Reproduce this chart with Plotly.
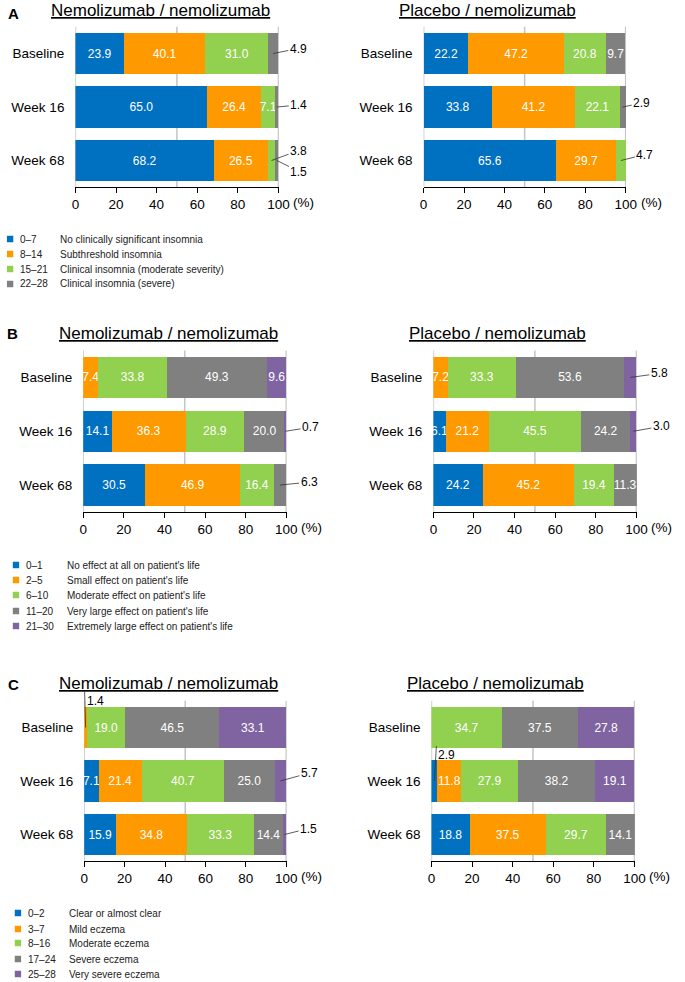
import plotly.graph_objects as go

W, H = 685, 982
FONT = "Arial, Liberation Sans, Helvetica, sans-serif"

# ---------------- data ----------------
categories = ["Baseline", "Week 16", "Week 68"]
x_tickvals = [0, 20, 40, 60, 80, 100]
x_ticktext = ["0", "20", "40", "60", "80", "100"]
grid_vals = [0, 50, 100]
unit_text = "(%)"

colors = ["#0070C0", "#FF9900", "#92D050", "#808080", "#8064A2"]

arm_titles = ["Nemolizumab / nemolizumab", "Placebo / nemolizumab"]
panel_letters = ["A", "B", "C"]

# A: insomnia severity
a_ranges = ["0–7", "8–14", "15–21", "22–28"]
a_labels = ["No clinically significant insomnia", "Subthreshold insomnia",
            "Clinical insomnia (moderate severity)", "Clinical insomnia (severe)"]
a_nemo = [[23.9, 65.0, 68.2], [40.1, 26.4, 26.5], [31.0, 7.1, 3.8], [4.9, 1.4, 1.5]]
a_plac = [[22.2, 33.8, 65.6], [47.2, 41.2, 29.7], [20.8, 22.1, 4.7], [9.7, 2.9, 0.0]]

# B: effect on patient's life
b_ranges = ["0–1", "2–5", "6–10", "11–20", "21–30"]
b_labels = ["No effect at all on patient's life", "Small effect on patient's life",
            "Moderate effect on patient's life", "Very large effect on patient's life",
            "Extremely large effect on patient's life"]
b_nemo = [[0.0, 14.1, 30.5], [7.4, 36.3, 46.9], [33.8, 28.9, 16.4], [49.3, 20.0, 6.3], [9.6, 0.7, 0.0]]
b_plac = [[0.0, 6.1, 24.2], [7.2, 21.2, 45.2], [33.3, 45.5, 19.4], [53.6, 24.2, 11.3], [5.8, 3.0, 0.0]]

# C: eczema severity
c_ranges = ["0–2", "3–7", "8–16", "17–24", "25–28"]
c_labels = ["Clear or almost clear", "Mild eczema", "Moderate eczema",
            "Severe eczema", "Very severe eczema"]
c_nemo = [[0.0, 7.1, 15.9], [1.4, 21.4, 34.8], [19.0, 40.7, 33.3], [46.5, 25.0, 14.4], [33.1, 5.7, 1.5]]
c_plac = [[0.0, 2.9, 18.8], [0.0, 11.8, 37.5], [34.7, 27.9, 29.7], [37.5, 38.2, 14.1], [27.8, 19.1, 0.0]]

# ---------------- layout specs (pixels) ----------------
def xp(px):
    return px / W

def yp(py):
    return 1 - py / H

# callouts: (series index, category index, ax, ay, vertical)
panels = [
    dict(series=a_nemo, x=(73, 281), y=(26.75, 187.25), title_x=160, title_y=10,
         callouts=[(3, 0, 25, -5, False), (3, 1, 22, -2, False), (2, 2, 27, -10, False), (3, 2, 22, 11, False)]),
    dict(series=a_plac, x=(429, 636), y=(26.75, 187.25), title_x=494, title_y=10,
         callouts=[(3, 1, 19, -4, False), (2, 2, 24, -6, False)]),
    dict(series=b_nemo, x=(81, 289), y=(350.5, 512), title_x=168, title_y=333,
         callouts=[(4, 1, 25, -4, False), (3, 2, 29, -3, False)]),
    dict(series=b_plac, x=(439, 647), y=(350.5, 512), title_x=505, title_y=333,
         callouts=[(4, 0, 29, -4, False), (4, 1, 28, -5, False)]),
    dict(series=c_nemo, x=(82, 289), y=(700.75, 861.25), title_x=168, title_y=683,
         callouts=[(1, 0, -1, -36, True), (4, 1, 29, -8, False), (4, 2, 24, -6, False)]),
    dict(series=c_plac, x=(437, 645), y=(700.75, 861.25), title_x=503, title_y=683,
         callouts=[(0, 1, 2, -35, True)]),
]

letters_pos = [(9.5, 13), (9, 333), (9.5, 684)]

legends = [
    dict(ranges=a_ranges, labels=a_labels, rows=[239, 254, 269, 284], sq_x=3, rng_x=14, lab_x=55),
    dict(ranges=b_ranges, labels=b_labels, rows=[565, 580, 595, 611, 626], sq_x=9, rng_x=20, lab_x=62),
    dict(ranges=c_ranges, labels=c_labels, rows=[913, 929, 943, 959, 974], sq_x=11, rng_x=22, lab_x=64),
]

fig = go.Figure()
annotations = []
shapes = []
layout_axes = {}

for i, p in enumerate(panels, start=1):
    xa = "x" if i == 1 else f"x{i}"
    ya = "y" if i == 1 else f"y{i}"
    xkey = "xaxis" if i == 1 else f"xaxis{i}"
    ykey = "yaxis" if i == 1 else f"yaxis{i}"
    outside = {(s, c) for s, c, *_ in p["callouts"]}

    for s, vals in enumerate(p["series"]):
        texts = []
        for c, v in enumerate(vals):
            if v <= 0 or (s, c) in outside:
                texts.append("")
            else:
                texts.append(f"{v:.1f}")
        fig.add_trace(go.Bar(
            x=vals, y=categories, orientation="h", xaxis=xa, yaxis=ya,
            marker=dict(color=colors[s], line=dict(width=0)),
            width=0.77, text=texts, textposition="inside",
            insidetextanchor="middle", textangle=0, constraintext="none",
            textfont=dict(color="white", size=12, family=FONT),
            showlegend=False, hoverinfo="x+y", cliponaxis=False,
        ))

    layout_axes[xkey] = dict(
        domain=[xp(p["x"][0]), xp(p["x"][1])], anchor=ya, range=[0, 100.2],
        tickvals=x_tickvals, ticktext=x_ticktext, ticks="outside", ticklen=5,
        tickcolor="black", tickwidth=1, showline=True, linecolor="black", linewidth=1,
        showgrid=False, zeroline=False, fixedrange=True,
        tickfont=dict(size=13.5, color="black", family=FONT),
    )
    layout_axes[ykey] = dict(
        domain=[yp(p["y"][1]), yp(p["y"][0])], anchor=xa, type="category",
        categoryarray=categories, range=[2.5, -0.5], showline=False, ticks="",
        showgrid=False, zeroline=False, fixedrange=True, ticklabelstandoff=10,
        tickfont=dict(size=13.5, color="black", family=FONT),
    )

    for g in grid_vals:
        shapes.append(dict(type="line", xref=xa, yref=f"{ya} domain", x0=g, x1=g, y0=0, y1=1,
                           line=dict(color="#C4C4C4", width=1.5), layer="below"))

    annotations.append(dict(text=unit_text, xref=xa, yref=f"{ya} domain", x=100, y=0,
                            xanchor="left", yanchor="middle", xshift=13, yshift=-15,
                            showarrow=False, font=dict(size=13.5, color="black", family=FONT)))

    annotations.append(dict(text=f"<u>{arm_titles[(i - 1) % 2]}</u>", xref="paper", yref="paper",
                            x=xp(p["title_x"]), y=yp(p["title_y"]), xanchor="center", yanchor="middle",
                            showarrow=False, font=dict(size=17, color="black", family=FONT)))

    for s, c, ax, ay, vertical in p["callouts"]:
        vals = [p["series"][k][c] for k in range(len(p["series"]))]
        center = sum(vals[:s]) + vals[s] / 2
        ann = dict(text=f"{vals[s]:.1f}", xref=xa, yref=ya, x=center, y=categories[c],
                   showarrow=True, arrowhead=0, arrowwidth=0.8, arrowcolor="#333333",
                   ax=ax, ay=ay, standoff=0, font=dict(size=12, color="black", family=FONT))
        if vertical:
            ann.update(xanchor="left", yanchor="top")
        annotations.append(ann)

for letter, (lx, ly) in zip(panel_letters, letters_pos):
    annotations.append(dict(text=f"<b>{letter}</b>", xref="paper", yref="paper", x=xp(lx), y=yp(ly),
                            xanchor="center", yanchor="middle", showarrow=False,
                            font=dict(size=15, color="black", family=FONT)))

for lg in legends:
    for k, (rng, lab, ry) in enumerate(zip(lg["ranges"], lg["labels"], lg["rows"])):
        shapes.append(dict(type="rect", xref="paper", yref="paper",
                           x0=xp(lg["sq_x"]), x1=xp(lg["sq_x"] + 6.5),
                           y0=yp(ry + 3.25), y1=yp(ry - 3.25),
                           fillcolor=colors[k], line=dict(width=0)))
        annotations.append(dict(text=rng, xref="paper", yref="paper", x=xp(lg["rng_x"]), y=yp(ry),
                                xanchor="left", yanchor="middle", showarrow=False,
                                font=dict(size=10, color="#222222", family=FONT)))
        annotations.append(dict(text=lab, xref="paper", yref="paper", x=xp(lg["lab_x"]), y=yp(ry),
                                xanchor="left", yanchor="middle", showarrow=False,
                                font=dict(size=10, color="#222222", family=FONT)))

fig.update_layout(
    width=W, height=H, margin=dict(l=0, r=0, t=0, b=0),
    paper_bgcolor="white", plot_bgcolor="white", barmode="stack",
    font=dict(family=FONT, color="black"),
    annotations=annotations, shapes=shapes, showlegend=False,
    **layout_axes,
)

fig.write_html("out.html", config={"displayModeBar": False},
               post_script="document.body.style.margin='0';document.body.style.overflow='hidden';")
